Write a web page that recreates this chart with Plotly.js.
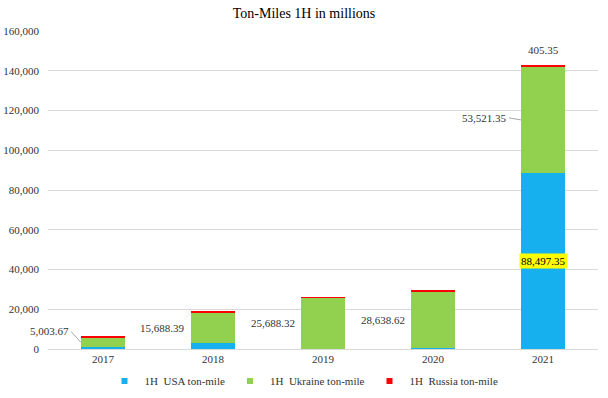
<!DOCTYPE html>
<html><head><meta charset="utf-8">
<script src="https://cdn.plot.ly/plotly-3.0.1.min.js"></script>
<style>html,body{margin:0;padding:0;background:#fff}</style>
</head><body>
<div id="chart" style="width:608px;height:398px"></div>
<script>
const years = ['2017','2018','2019','2020','2021'];
const usa = [800, 2900, 0, 300, 88497.35];
const ukraine = [5003.67, 15688.39, 25688.32, 28638.62, 53521.35];
const russia = [500, 500, 400, 450, 405.35];
const seriesNames = ['1H\u00a0 USA ton-mile','1H\u00a0 Ukraine ton-mile','1H\u00a0 Russia ton-mile'];
const colors = ['#16b0ee','#92d050','#ff0000'];

const fmt = v => v.toLocaleString('en-US',{minimumFractionDigits:2,maximumFractionDigits:2});
const fam = 'Liberation Serif, Times New Roman, serif';
const F = () => ({family:fam, size:11, color:'#333333'});

const traces = [usa, ukraine, russia].map((vals,i)=>({
  type:'bar', x:years, y:vals, name:seriesNames[i],
  marker:{color:colors[i]}, showlegend:false
}));
// legend proxies with small square markers
seriesNames.forEach((nm,i)=>traces.push({
  type:'scatter', mode:'markers', x:[null], y:[null], name:nm,
  marker:{symbol:'square', size:6, color:colors[i]}, showlegend:true
}));

const ann = [];
years.forEach((yr,i)=>{
  const mid = usa[i] + ukraine[i]/2;
  const leader = (i===0) ? {ax:-10, ay:-11} : (i===4 ? {ax:-12, ay:-2} : null);
  if (leader) {
    ann.push({x:i, y:mid, xref:'x', yref:'y', text:fmt(ukraine[i]), font:F(),
      showarrow:true, arrowhead:0, arrowwidth:1, arrowcolor:'#a6a6a6', standoff:0,
      ax:leader.ax, ay:leader.ay, xanchor:'right', xshift:-22});
  } else {
    ann.push({x:i, y:mid, xref:'x', yref:'y', text:fmt(ukraine[i]), font:F(),
      showarrow:false, xanchor:'right', xshift:-26});
  }
});
const last = years.length-1;
ann.push({x:last, y:usa[last]/2, xref:'x', yref:'y', text:fmt(usa[last]),
  font:{family:fam, size:11, color:'#000'}, bgcolor:'#ffff00', borderpad:1, showarrow:false});
ann.push({x:last, y:usa[last]+ukraine[last]+russia[last], xref:'x', yref:'y',
  text:fmt(russia[last]), font:F(), showarrow:false, yanchor:'bottom', yshift:8});

const layout = {
  width:608, height:398,
  margin:{l:48, r:10, t:31, b:49},
  paper_bgcolor:'#fff', plot_bgcolor:'#fff',
  barmode:'stack', bargap:0.6,
  title:{text:'Ton-Miles 1H in millions', font:{family:fam, size:14, color:'#000'}, x:0.5, xanchor:'center', y:0.967, yanchor:'middle'},
  xaxis:{type:'category', range:[-0.5,4.5], automargin:false, showgrid:false, showline:true, linecolor:'#d9d9d9', linewidth:1, ticks:'', tickfont:F(), zeroline:false},
  yaxis:{range:[0,160000], dtick:20000, tickformat:',d', automargin:false, showgrid:true, gridcolor:'#d9d9d9', gridwidth:1,
    showline:false, zeroline:false, ticks:'', tickfont:F(), ticklabelstandoff:8},
  legend:{orientation:'h', x:0.5, xanchor:'center', xref:'container', yref:'container', y:0.043, yanchor:'middle', font:F(), traceorder:'normal', itemwidth:30},
  showlegend:true,
  annotations:ann
};
Plotly.newPlot('chart', traces, layout, {displayModeBar:false});
</script>
</body></html>
